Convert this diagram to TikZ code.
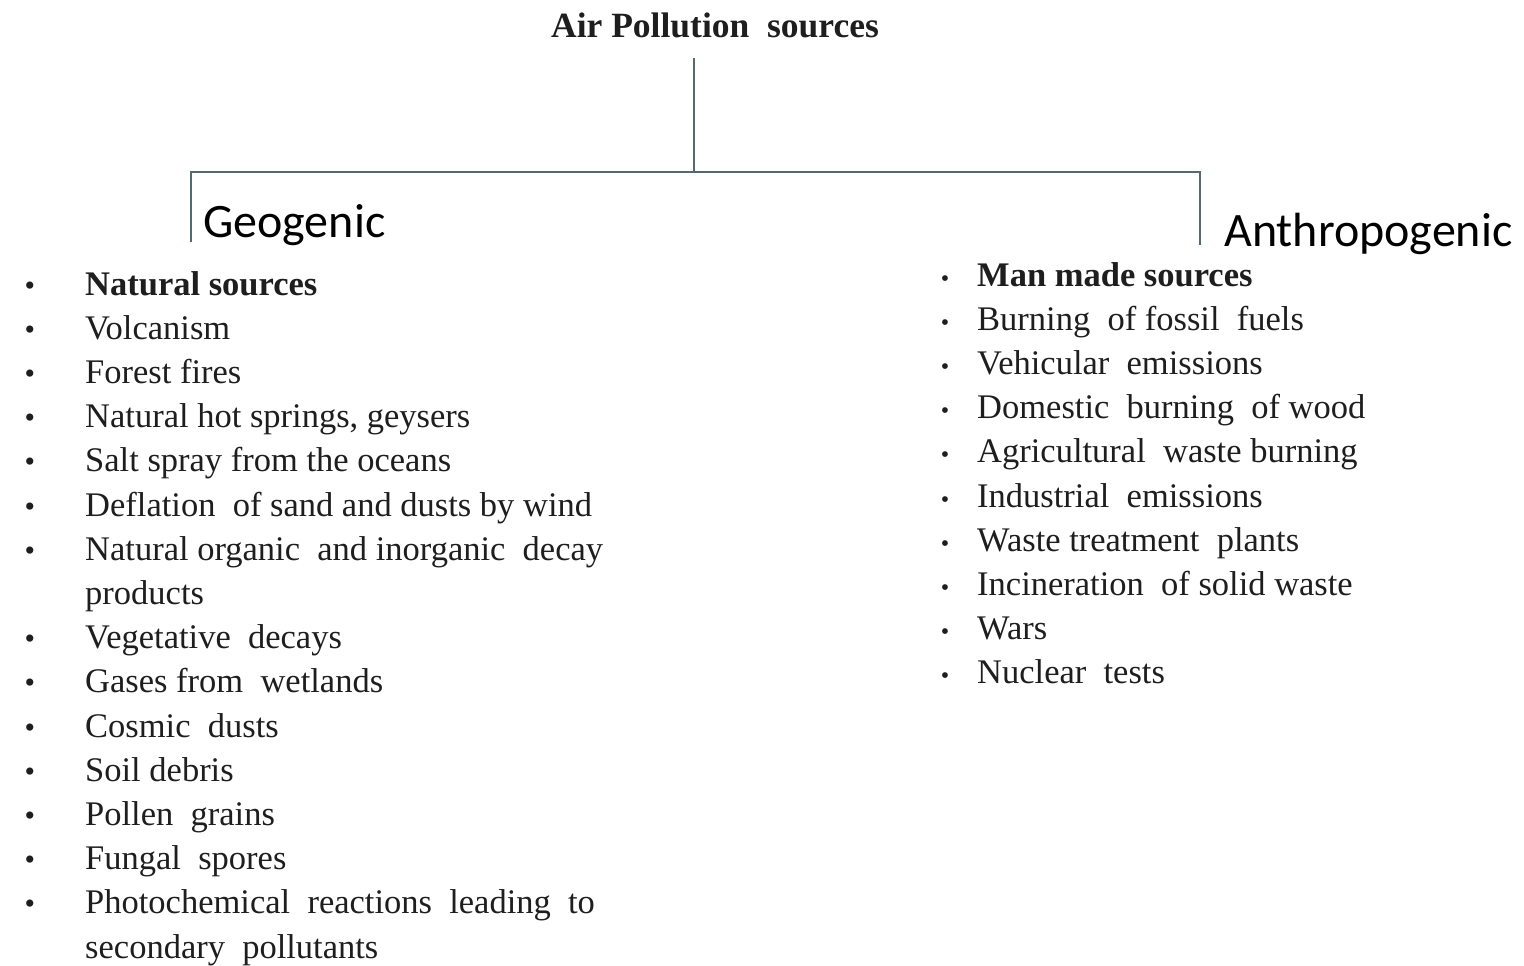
\documentclass[tikz,border=0pt]{standalone}
\usepackage{fontspec}
\setmainfont{Liberation Serif}
\newfontfamily\calibrifont{Carlito}
\usetikzlibrary{positioning}
\definecolor{connector}{RGB}{85,105,115}
\definecolor{ink}{RGB}{30,30,30}

\begin{document}
\begin{tikzpicture}[x=1pt,y=-1pt,
  connect/.style={draw=connector,line width=1.6pt},
  item/.style={anchor=base west,inner sep=0pt,text=ink,font=\fontsize{34.5}{40}\selectfont},
  bul/.style={anchor=base,inner sep=0pt,text=ink,font=\fontsize{30}{40}\selectfont},
  branch/.style={anchor=west,inner sep=0pt,font=\calibrifont\fontsize{48}{52}\selectfont}]
  \useasboundingbox[fill=white] (0,0) rectangle (1524,966);

  % title and tree
  \node[inner sep=0pt,text=ink,font=\bfseries\fontsize{35.5}{40}\selectfont] (title) at (715,25) {Air Pollution\ \ sources};
  \coordinate (top) at (694,58);
  \coordinate (hub) at (694,172);
  \coordinate (geoend) at (191,242);
  \coordinate (anthend) at (1200,245);
  \draw[connect] (top) -- (hub);
  \draw[connect] (geoend) |- (hub) -| (anthend);

  \node[branch] (geo) at (203,225) {Geogenic};
  \node[branch] (anth) at (1224,234) {Anthropogenic};

  % natural sources
  \foreach \b/\txt [count=\i] in {
    1/{\textbf{Natural sources}},
    1/Volcanism,
    1/Forest fires,
    1/{Natural hot springs,\ geysers},
    1/Salt spray from the oceans,
    1/Deflation\ \ of sand and dusts by wind,
    1/Natural organic\ \ and inorganic\ \ decay,
    0/products,
    1/Vegetative\ \ decays,
    1/Gases from\ \ wetlands,
    1/Cosmic\ \ dusts,
    1/Soil debris,
    1/Pollen\ \ grains,
    1/Fungal\ \ spores,
    1/Photochemical\ \ reactions\ \ leading\ \ to,
    0/secondary\ \ pollutants}
  {
    \node[item] (geo\i) at (85,{295+44.2*(\i-1)}) {\txt};
    \ifnum\b=1 \node[bul] at (30,{295+44.2*(\i-1)}) {\textbullet}; \fi
  }

  % man made sources
  \foreach \txt [count=\i] in {
    {\textbf{Man made sources}},
    Burning\ \ of fossil\ \ fuels,
    Vehicular\ \ emissions,
    Domestic\ \ burning\ \ of wood,
    Agricultural\ \ waste burning,
    Industrial\ \ emissions,
    Waste treatment\ \ plants,
    Incineration\ \ of solid waste,
    Wars,
    Nuclear\ \ tests}
  {
    \node[item] (anth\i) at (977,{286+44.2*(\i-1)}) {\txt};
    \node[bul,font=\fontsize{24}{30}\selectfont] at (945,{286+44.2*(\i-1)}) {\textbullet};
  }
\end{tikzpicture}
\end{document}
